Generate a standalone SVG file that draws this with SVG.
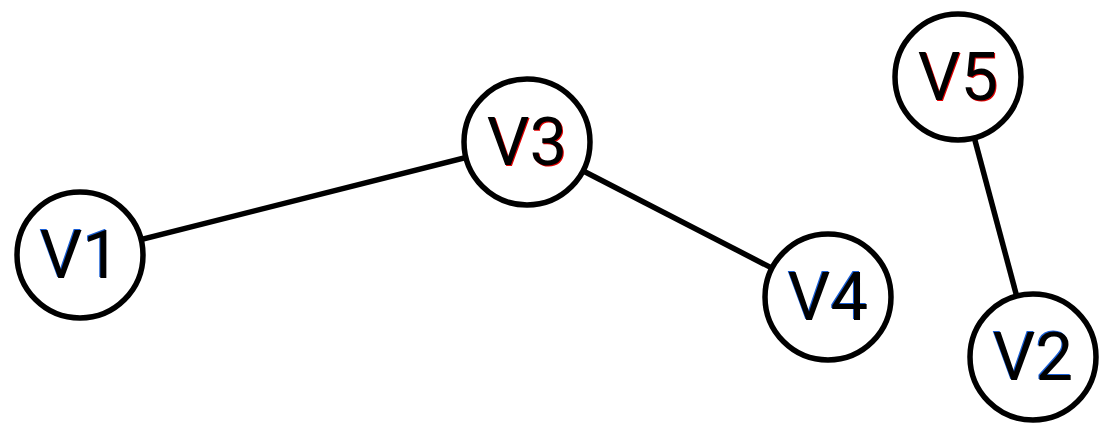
<svg xmlns="http://www.w3.org/2000/svg" width="1099" height="424" viewBox="0 0 1099 424">
<style>
.node{fill:#fff;stroke:#000;stroke-width:5.5}
.edge{stroke:#000;stroke-width:5.5;fill:none}
.t{font-family:Roboto,"Liberation Sans",sans-serif;font-size:67px;text-anchor:middle;dominant-baseline:central}
.red{fill:#e00000}
.blue{fill:#1a5fd6}
.k{fill:#000}
</style>
<rect width="1099" height="424" fill="#fff"/>
<g id="edges">
<line class="edge" x1="80" y1="255" x2="527" y2="142"/>
<line class="edge" x1="527" y1="142" x2="828" y2="297"/>
<line class="edge" x1="958" y1="77" x2="1033" y2="357"/>
</g>
<g id="V1"><circle class="node" cx="80" cy="255" r="63"/><text class="t blue" x="79" y="254">V1</text><text class="t k" x="80" y="255">V1</text></g>
<g id="V3"><circle class="node" cx="527" cy="142" r="63"/><text class="t red" x="528" y="143">V3</text><text class="t k" x="527" y="142">V3</text></g>
<g id="V4"><circle class="node" cx="828" cy="297" r="63"/><text class="t blue" x="827" y="296">V4</text><text class="t k" x="828" y="297">V4</text></g>
<g id="V5"><circle class="node" cx="958" cy="77" r="63"/><text class="t red" x="959" y="78">V5</text><text class="t k" x="958" y="77">V5</text></g>
<g id="V2"><circle class="node" cx="1033" cy="357" r="63"/><text class="t blue" x="1032" y="356">V2</text><text class="t k" x="1033" y="357">V2</text></g>
</svg>
